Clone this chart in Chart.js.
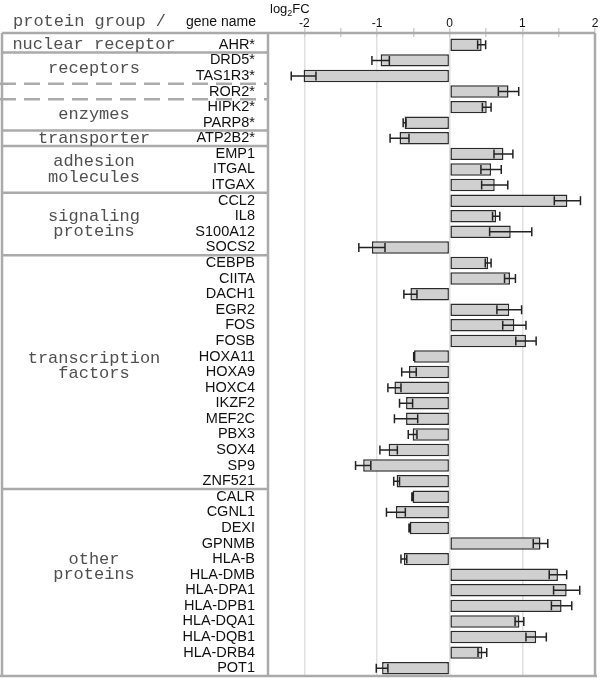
<!DOCTYPE html>
<html>
<head>
<meta charset="utf-8">
<script src="https://cdn.jsdelivr.net/npm/chart.js@4/dist/chart.umd.min.js"></script>
<style>
  html, body { margin: 0; padding: 0; background: #fff; overflow: hidden; }
  #wrap { width: 600px; height: 678px; }
  canvas { display: block; }
</style>
</head>
<body>
<div id="wrap"><canvas id="fcChart" width="600" height="678"></canvas></div>
<script>
// gene names, top to bottom
const genes = ["AHR*", "DRD5*", "TAS1R3*", "ROR2*", "HIPK2*", "PARP8*", "ATP2B2*",
  "EMP1", "ITGAL", "ITGAX",
  "CCL2", "IL8", "S100A12", "SOCS2",
  "CEBPB", "CIITA", "DACH1", "EGR2", "FOS", "FOSB", "HOXA11", "HOXA9", "HOXC4",
  "IKZF2", "MEF2C", "PBX3", "SOX4", "SP9", "ZNF521",
  "CALR", "CGNL1", "DEXI", "GPNMB", "HLA-B", "HLA-DMB", "HLA-DPA1", "HLA-DPB1",
  "HLA-DQA1", "HLA-DQB1", "HLA-DRB4", "POT1"]

// log2 fold change
const log2fc = [0.44, -0.95, -2.01, 0.81, 0.51, -0.62, -0.69,
  0.74, 0.57, 0.62,
  1.62, 0.64, 0.84, -1.07,
  0.53, 0.83, -0.54, 0.82, 0.89, 1.05, -0.49, -0.56, -0.76,
  -0.60, -0.60, -0.51, -0.84, -1.19, -0.73,
  -0.51, -0.74, -0.55, 1.25, -0.63, 1.49, 1.61, 1.54,
  0.96, 1.19, 0.45, -0.93]

// error (half width of whisker)
const errs = [0.055, 0.12, 0.17, 0.14, 0.06, 0.02, 0.13,
  0.13, 0.14, 0.18,
  0.18, 0.05, 0.29, 0.18,
  0.04, 0.075, 0.09, 0.17, 0.16, 0.14, 0.005, 0.10, 0.09,
  0.09, 0.16, 0.06, 0.12, 0.105, 0.04,
  0.01, 0.13, 0.01, 0.10, 0.04, 0.12, 0.18, 0.14,
  0.06, 0.14, 0.06, 0.08]

// protein groups: first row index, label lines, row where label is centred
const groupStart = [0, 1, 3, 4, 6, 7, 10, 14, 29]
const groupLabels = [["nuclear receptor"], ["receptors"], [], ["enzymes"], ["transporter"],
  ["adhesion", "molecules"], ["signaling", "proteins"], ["transcription", "factors"], ["other", "proteins"]]
const groupLabelRow = [0, 1.5, 3, 4.5, 6, 8, 11.5, 20.6, 33.5]
const dashedBefore = [3, 4]

const xTicks = [-2, -1.5, -1, -0.5, 0, 0.5, 1, 1.5, 2]

const tableLeft = 2
const frameGap = 4   // frame sits a little above the first row
const lineGray = "#aaa"

let errorBars = {
  id: "errorBars",
  afterDatasetsDraw(chart) {
    let ctx = chart.ctx
    let xs = chart.scales.x
    let meta = chart.getDatasetMeta(0)
    ctx.save()
    ctx.strokeStyle = "#222"
    ctx.lineWidth = 1.5
    meta.data.forEach((bar, i) => {
      let x1 = xs.getPixelForValue(log2fc[i] - errs[i])
      let x2 = xs.getPixelForValue(log2fc[i] + errs[i])
      let y = bar.y
      ctx.beginPath()
      ctx.moveTo(x1, y); ctx.lineTo(x2, y)
      ctx.moveTo(x1, y - 4.5); ctx.lineTo(x1, y + 4.5)
      ctx.moveTo(x2, y - 4.5); ctx.lineTo(x2, y + 4.5)
      ctx.stroke()
    })
    ctx.restore()
  }
}

let tableFrame = {
  id: "tableFrame",
  afterDraw(chart) {
    let ctx = chart.ctx
    let a = chart.chartArea
    let ys = chart.scales.y
    let top = a.top - frameGap
    ctx.save()
    ctx.strokeStyle = lineGray
    ctx.lineWidth = 2.5
    // frame
    ctx.beginPath()
    ctx.moveTo(tableLeft, top); ctx.lineTo(a.right, top)
    ctx.moveTo(tableLeft, top); ctx.lineTo(tableLeft, a.bottom)
    ctx.moveTo(0, a.bottom); ctx.lineTo(a.right + 2, a.bottom)
    ctx.moveTo(a.left, top); ctx.lineTo(a.left, a.bottom)
    ctx.moveTo(a.right, top); ctx.lineTo(a.right, a.bottom)
    ctx.stroke()

    // separators between groups
    groupStart.forEach(s => {
      if (s === 0) return
      let y = (ys.getPixelForValue(s - 1) + ys.getPixelForValue(s)) / 2
      ctx.setLineDash(dashedBefore.includes(s) ? [16, 8] : [])
      ctx.beginPath()
      ctx.moveTo(dashedBefore.includes(s) ? 0 : tableLeft, y)
      ctx.lineTo(a.left, y)
      ctx.stroke()
    })
    ctx.setLineDash([])

    // group names
    ctx.fillStyle = "#505050"
    ctx.font = "17px 'Liberation Mono', 'Courier New', monospace"
    ctx.textAlign = "center"
    ctx.textBaseline = "middle"
    groupLabels.forEach((lines, g) => {
      let yc = ys.getPixelForValue(groupLabelRow[g])
      lines.forEach((t, k) => {
        ctx.fillText(t, 94, yc + (k - (lines.length - 1) / 2) * 15.5)
      })
    })

    // header
    ctx.textAlign = "left"
    ctx.fillText("protein group /", 13, 21)
    ctx.fillStyle = "#111"
    ctx.font = "14px 'Liberation Sans', Arial, sans-serif"
    ctx.textAlign = "right"
    ctx.fillText("gene name", 256, 22)

    // axis title log2FC
    ctx.textAlign = "left"
    ctx.textBaseline = "alphabetic"
    ctx.font = "13px 'Liberation Sans', Arial, sans-serif"
    ctx.fillText("log", 270, 13)
    let w = ctx.measureText("log").width
    ctx.font = "9px 'Liberation Sans', Arial, sans-serif"
    ctx.fillText("2", 270 + w, 16)
    let w2 = ctx.measureText("2").width
    ctx.font = "13px 'Liberation Sans', Arial, sans-serif"
    ctx.fillText("FC", 270 + w + w2, 13)
    ctx.restore()
  }
}

new Chart(document.getElementById("fcChart"), {
  type: "bar",
  data: {
    labels: genes,
    datasets: [{
      data: log2fc,
      backgroundColor: "#d0d0d0",
      borderColor: "#2a2a2a",
      borderWidth: 1.5,
      borderSkipped: false,
      barPercentage: 0.8,
      categoryPercentage: 1.0
    }]
  },
  options: {
    indexAxis: "y",
    responsive: false,
    devicePixelRatio: 1,
    animation: false,
    layout: { padding: { top: 0, right: 5, bottom: 2, left: 0 } },
    plugins: { legend: { display: false }, tooltip: { enabled: false } },
    scales: {
      x: {
        position: "top",
        min: -2.5,
        max: 2,
        afterBuildTicks: scale => { scale.ticks = xTicks.map(v => ({ value: v })) },
        afterFit: scale => {
          scale.height = 37
          scale.paddingLeft = 0
          scale.paddingRight = 0
        },
        ticks: {
          autoSkip: false,
          maxRotation: 0,
          padding: -3,
          color: "#111",
          font: { family: "'Liberation Sans', Arial, sans-serif", size: 12 },
          callback: v => (Number.isInteger(v) ? String(v) : "")
        },
        grid: {
          color: c => (c.tick && Number.isInteger(c.tick.value) ? "#e0e0e0" : "rgba(0,0,0,0)"),
          tickColor: "#d0d0d0",
          tickLength: 9,
          lineWidth: 1.5
        },
        border: { display: false }
      },
      y: {
        afterFit: scale => {
          scale.width = 268
          scale.paddingTop = 0
          scale.paddingBottom = 0
        },
        ticks: {
          autoSkip: false,
          padding: 5,
          color: "#111",
          font: { family: "'Liberation Sans', Arial, sans-serif", size: 14.5 }
        },
        grid: { display: false },
        border: { display: false }
      }
    }
  },
  plugins: [errorBars, tableFrame]
})
</script>
</body>
</html>
